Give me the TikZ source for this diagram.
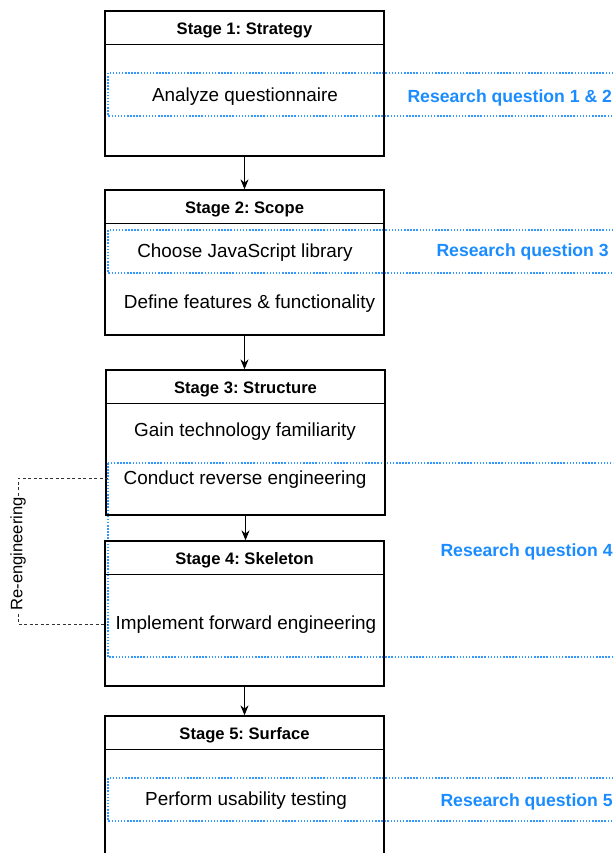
\documentclass[tikz,border=0pt]{standalone}
\usepackage{fontspec}
\setmainfont{Liberation Sans}
\usetikzlibrary{arrows.meta}
\frenchspacing
\definecolor{rqblue}{HTML}{1A8CFF}
\definecolor{rqline}{HTML}{3399FF}
\tikzset{
    stagebox/.style={draw, line width=1.3pt, minimum width=279pt, minimum height=145pt, inner sep=0pt},
    stagetitle/.style={font=\fontsize{16.6}{19}\selectfont\bfseries, anchor=center},
    stageitem/.style={font=\fontsize{18.9}{22}\selectfont, anchor=center},
    rqbox/.style={draw=rqline, line width=1.5pt, dash pattern=on 1.5pt off 1.6pt},
    rqlabel/.style={font=\fontsize{17.6}{20}\selectfont\bfseries, text=rqblue, anchor=west},
    flow/.style={-{Stealth[length=10pt,width=8pt]}, line width=1.1pt},
    reeng/.style={dashed, dash pattern=on 3pt off 2.5pt, line width=0.9pt, black!80}
}
\begin{document}
\begin{tikzpicture}[x=1pt,y=-1pt]
    \path[use as bounding box, clip] (0,0) rectangle (613,853);
    %% research question areas
    \draw[rqbox] (108,73) rectangle (640,116);
    \draw[rqbox] (108,230) rectangle (640,273);
    \draw[rqbox] (108,463) rectangle (640,657);
    \draw[rqbox] (108,778) rectangle (640,821);
    %% stages
    \node[stagebox] (s1) at (244.5,83.5) {};
    \node[stagebox] (s2) at (244.5,262.5) {};
    \node[stagebox] (s3) at (245.5,442.5) {};
    \node[stagebox] (s4) at (244.5,613.5) {};
    \node[stagebox] (s5) at (244.5,788.5) {};
    %% headers
    \foreach \s in {s1,s2,s3,s4,s5}
        \draw[line width=1pt] (\s.north west) ++(0,34) -- ++(279,0);
    \node[stagetitle] (t1) at ([yshift=-20pt]s1.north) {Stage 1: Strategy};
    \node[stagetitle] (t2) at ([yshift=-20pt]s2.north) {Stage 2: Scope};
    \node[stagetitle] (t3) at ([yshift=-20pt]s3.north) {Stage 3: Structure};
    \node[stagetitle] (t4) at ([yshift=-20pt]s4.north) {Stage 4: Skeleton};
    \node[stagetitle] (t5) at ([yshift=-20pt]s5.north) {Stage 5: Surface};
    %% items
    \node[stageitem] (analyze) at (245,97) {Analyze questionnaire};
    \node[stageitem] (choose) at (245,253) {Choose JavaScript library};
    \node[stageitem] (define) at (249.5,304) {Define features \& functionality};
    \node[stageitem] (gain) at (245,432) {Gain technology familiarity};
    \node[stageitem] (conduct) at (245,480) {Conduct reverse engineering};
    \node[stageitem] (implement) at (246,625) {Implement forward engineering};
    \node[stageitem] (perform) at (246,801) {Perform usability testing};
    %% research questions
    \node[rqlabel] (rq12) at (404,98) {Research question 1 \& 2};
    \node[rqlabel] (rq3) at (433,252) {Research question 3};
    \node[rqlabel] (rq4) at (437,552) {Research question 4};
    \node[rqlabel] (rq5) at (437,802) {Research question 5};
    %% arrows
    \draw[flow] (s1.south) -- (s2.north);
    \draw[flow] (s2.south) -- (s2.south |- s3.north);
    \draw[flow] (s3.south) -- (s3.south |- s4.north);
    \draw[flow] (s4.south) -- (s5.north);
    %% re-engineering loop
    \coordinate (rev) at (108,478);
    \coordinate (fwd) at (108,624);
    \draw[reeng] (rev) -- (18,478) coordinate (c1)
        -- node[rotate=90, fill=white, inner sep=1pt, font=\fontsize{16.6}{19}\selectfont, text=black, pos=0.52] (reng) {Re-engineering}
        (c1 |- fwd) -- (fwd);
\end{tikzpicture}
\end{document}
